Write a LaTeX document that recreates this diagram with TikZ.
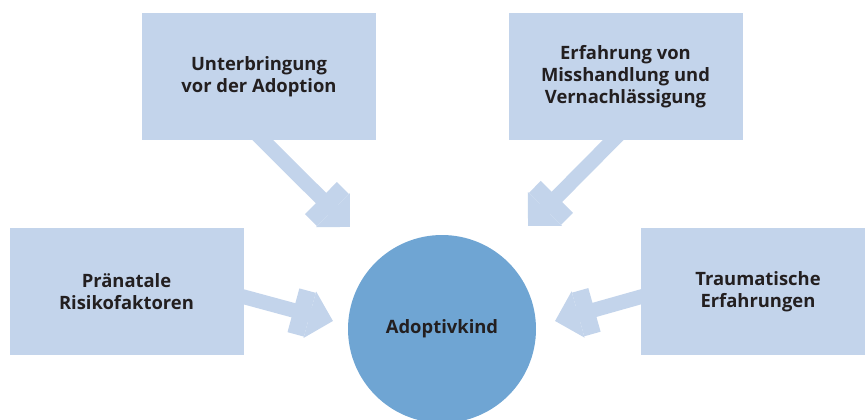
\documentclass[tikz,border=0pt]{standalone}
\usepackage{fontspec}
\setmainfont{Open Sans}
\usepackage{tikz}
\usetikzlibrary{arrows.meta}
\definecolor{boxblue}{HTML}{C3D4EB}
\definecolor{kidblue}{HTML}{6FA5D3}
\definecolor{textgray}{HTML}{231F20}
\begin{document}
\begin{tikzpicture}[x=0.75pt,y=-0.75pt,
        factor/.style={fill=boxblue, minimum width=175.5pt, minimum height=95.25pt, inner sep=0pt,
            align=center, text=textgray, font=\fontsize{13.8}{16.5}\selectfont\bfseries},
        kid/.style={circle, fill=kidblue, minimum size=141pt, inner sep=0pt,
            text=textgray, font=\fontsize{13.8}{16.5}\selectfont\bfseries},
        influence/.style={boxblue, line width=11pt, shorten <=-6pt,
            -{Rectangle[length=12.75pt,width=34pt]Triangle[length=18pt,width=35pt]}}]
        \useasboundingbox (0,0) rectangle (865,419);

        \node[factor] (placement) at (259,76.5) {Unterbringung\\vor der Adoption};
        \node[factor] (abuse) at (625.5,76.5) {Erfahrung von\\Misshandlung und\\Vernachlässigung};
        \node[factor] (prenatal) at (126.5,291.5) {Pränatale\\Risikofaktoren};
        \node[factor] (trauma) at (758,291.5) {Traumatische\\Erfahrungen};

        \node[kid] (adoptee) at (442,329) {Adoptivkind};

        % arrow tips in front of the circle
        \coordinate (tipplacement) at (350,227);
        \coordinate (tipabuse) at (528,226);
        \coordinate (tipprenatal) at (333,321);
        \coordinate (tiptrauma) at (555,321);

        \draw[influence] ([xshift=3pt]placement.south) -- (tipplacement);
        \draw[influence] ([xshift=-9.4pt]abuse.south) -- (tipabuse);
        \draw[influence] ([yshift=-4pt]prenatal.east) -- (tipprenatal);
        \draw[influence] ([yshift=-4pt]trauma.west) -- (tiptrauma);
    \end{tikzpicture}
\end{document}
